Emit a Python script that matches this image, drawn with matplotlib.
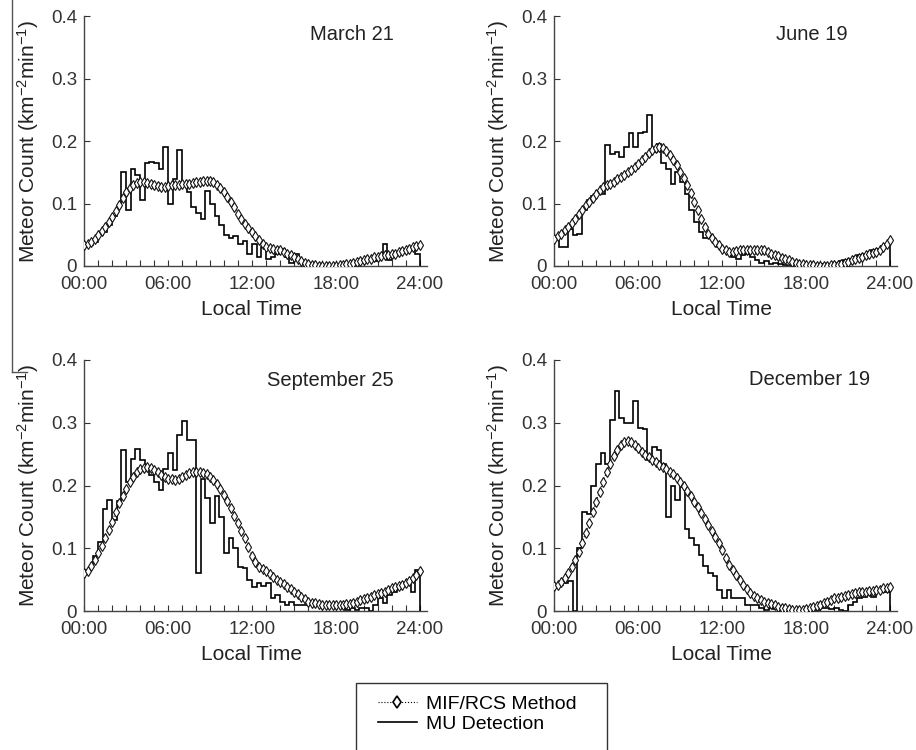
import matplotlib
matplotlib.use("Agg")
import matplotlib.pyplot as plt
import numpy as np
from matplotlib.lines import Line2D
from matplotlib.patches import Rectangle

plt.rcParams["font.family"] = ["Liberation Sans", "DejaVu Sans"]
plt.rcParams["mathtext.fontset"] = "custom"
plt.rcParams["mathtext.rm"] = "Liberation Sans"
plt.rcParams["mathtext.it"] = "Liberation Sans:italic"

# MIF/RCS model curves, one value every 15 min from 00:00 to 24:00 (97 values)
march_mif = [
	0.034, 0.036, 0.039, 0.044,
	0.050, 0.056, 0.063, 0.071,
	0.079, 0.088, 0.098, 0.109,
	0.119, 0.125, 0.130, 0.133,
	0.135, 0.134, 0.133, 0.131,
	0.130, 0.128, 0.127, 0.127,
	0.128, 0.129, 0.130, 0.130,
	0.131, 0.132, 0.132, 0.133,
	0.134, 0.135, 0.136, 0.136,
	0.136, 0.134, 0.130, 0.125,
	0.119, 0.111, 0.103, 0.094,
	0.084, 0.076, 0.068, 0.061,
	0.055, 0.048, 0.041, 0.036,
	0.031, 0.029, 0.027, 0.026,
	0.025, 0.023, 0.020, 0.017,
	0.014, 0.011, 0.008, 0.005,
	0.004, 0.002, 0.001, 0.000,
	0.000, 0.000, 0.000, 0.000,
	0.000, 0.001, 0.002, 0.003,
	0.004, 0.005, 0.007, 0.008,
	0.009, 0.011, 0.012, 0.014,
	0.015, 0.016, 0.017, 0.018,
	0.019, 0.020, 0.022, 0.024,
	0.026, 0.028, 0.030, 0.032,
	0.034,
]
june_mif = [
	0.044, 0.048, 0.052, 0.057,
	0.063, 0.069, 0.076, 0.083,
	0.090, 0.097, 0.103, 0.109,
	0.115, 0.121, 0.127, 0.130,
	0.132, 0.135, 0.139, 0.142,
	0.146, 0.150, 0.154, 0.158,
	0.163, 0.169, 0.175, 0.181,
	0.186, 0.189, 0.191, 0.189,
	0.184, 0.178, 0.170, 0.161,
	0.151, 0.141, 0.130, 0.117,
	0.103, 0.090, 0.076, 0.063,
	0.052, 0.045, 0.039, 0.033,
	0.028, 0.025, 0.023, 0.023,
	0.024, 0.025, 0.025, 0.026,
	0.026, 0.026, 0.026, 0.025,
	0.025, 0.022, 0.020, 0.018,
	0.016, 0.013, 0.011, 0.009,
	0.007, 0.005, 0.004, 0.003,
	0.002, 0.001, 0.001, 0.000,
	0.000, 0.000, 0.000, 0.001,
	0.001, 0.002, 0.004, 0.005,
	0.007, 0.009, 0.011, 0.013,
	0.015, 0.017, 0.019, 0.021,
	0.023, 0.026, 0.030, 0.035,
	0.041,
]
sept_mif = [
	0.060, 0.064, 0.071, 0.081,
	0.092, 0.104, 0.116, 0.129,
	0.142, 0.157, 0.172, 0.184,
	0.195, 0.205, 0.214, 0.221,
	0.226, 0.228, 0.229, 0.228,
	0.225, 0.221, 0.217, 0.214,
	0.211, 0.210, 0.209, 0.211,
	0.214, 0.217, 0.220, 0.221,
	0.222, 0.222, 0.220, 0.218,
	0.214, 0.209, 0.202, 0.194,
	0.185, 0.175, 0.164, 0.152,
	0.140, 0.128, 0.116, 0.102,
	0.088, 0.078, 0.070, 0.067,
	0.064, 0.059, 0.054, 0.050,
	0.047, 0.043, 0.039, 0.035,
	0.031, 0.027, 0.023, 0.019,
	0.015, 0.013, 0.012, 0.011,
	0.010, 0.010, 0.010, 0.010,
	0.010, 0.010, 0.010, 0.011,
	0.011, 0.013, 0.015, 0.017,
	0.019, 0.021, 0.023, 0.025,
	0.027, 0.029, 0.031, 0.034,
	0.036, 0.038, 0.040, 0.042,
	0.044, 0.048, 0.052, 0.057,
	0.063,
]
dec_mif = [
	0.040, 0.042, 0.046, 0.052,
	0.060, 0.070, 0.081, 0.094,
	0.108, 0.124, 0.140, 0.157,
	0.174, 0.190, 0.206, 0.221,
	0.235, 0.247, 0.257, 0.264,
	0.269, 0.271, 0.270, 0.265,
	0.259, 0.254, 0.249, 0.245,
	0.241, 0.237, 0.233, 0.230,
	0.226, 0.222, 0.218, 0.212,
	0.206, 0.199, 0.191, 0.183,
	0.174, 0.165, 0.156, 0.147,
	0.137, 0.128, 0.118, 0.108,
	0.097, 0.085, 0.073, 0.065,
	0.057, 0.049, 0.042, 0.035,
	0.028, 0.024, 0.021, 0.018,
	0.015, 0.013, 0.011, 0.009,
	0.007, 0.005, 0.004, 0.003,
	0.002, 0.002, 0.002, 0.002,
	0.003, 0.004, 0.006, 0.008,
	0.010, 0.012, 0.015, 0.018,
	0.020, 0.021, 0.023, 0.024,
	0.025, 0.027, 0.028, 0.030,
	0.031, 0.031, 0.032, 0.032,
	0.033, 0.034, 0.036, 0.037,
	0.038,
]

# MU radar detections, 20-min bins (72 values)
march_mu = [
	0.031, 0.034, 0.039, 0.050, 0.055, 0.065,
	0.080, 0.095, 0.151, 0.090, 0.155, 0.145,
	0.105, 0.165, 0.167, 0.165, 0.155, 0.190,
	0.100, 0.140, 0.185, 0.132, 0.118, 0.095,
	0.085, 0.075, 0.120, 0.100, 0.080, 0.065,
	0.050, 0.045, 0.048, 0.035, 0.040, 0.020,
	0.035, 0.015, 0.030, 0.012, 0.015, 0.020,
	0.028, 0.015, 0.005, 0.020, 0.008, 0.005,
	0.005, 0.003, 0.000, 0.002, 0.000, 0.000,
	0.000, 0.002, 0.000, 0.003, 0.005, 0.008,
	0.010, 0.012, 0.008, 0.015, 0.035, 0.010,
	0.018, 0.020, 0.022, 0.025, 0.028, 0.020,
]
june_mu = [
	0.045, 0.031, 0.031, 0.060, 0.050, 0.052,
	0.090, 0.105, 0.112, 0.120, 0.116, 0.194,
	0.180, 0.183, 0.175, 0.190, 0.213, 0.190,
	0.213, 0.215, 0.242, 0.183, 0.196, 0.165,
	0.155, 0.132, 0.150, 0.135, 0.115, 0.090,
	0.070, 0.055, 0.045, 0.050, 0.040, 0.030,
	0.025, 0.020, 0.015, 0.012, 0.018, 0.020,
	0.015, 0.010, 0.005, 0.008, 0.003, 0.005,
	0.003, 0.002, 0.000, 0.000, 0.000, 0.000,
	0.000, 0.002, 0.000, 0.003, 0.002, 0.004,
	0.005, 0.008, 0.010, 0.012, 0.015, 0.018,
	0.020, 0.022, 0.025, 0.028, 0.032, 0.033,
]
sept_mu = [
	0.065, 0.070, 0.087, 0.110, 0.162, 0.177,
	0.145, 0.175, 0.257, 0.206, 0.243, 0.258,
	0.240, 0.225, 0.217, 0.206, 0.193, 0.226,
	0.251, 0.225, 0.280, 0.302, 0.272, 0.272,
	0.061, 0.210, 0.180, 0.140, 0.183, 0.150,
	0.092, 0.116, 0.100, 0.070, 0.068, 0.050,
	0.038, 0.045, 0.040, 0.045, 0.020, 0.025,
	0.015, 0.010, 0.015, 0.010, 0.010, 0.010,
	0.012, 0.010, 0.012, 0.010, 0.008, 0.010,
	0.008, 0.005, 0.002, 0.005, 0.002, 0.005,
	0.005, 0.000, 0.010, 0.020, 0.012, 0.025,
	0.030, 0.035, 0.040, 0.050, 0.030, 0.066,
]
dec_mu = [
	0.040, 0.042, 0.045, 0.048, 0.000, 0.100,
	0.157, 0.155, 0.200, 0.234, 0.251, 0.235,
	0.304, 0.350, 0.307, 0.300, 0.300, 0.334,
	0.291, 0.290, 0.240, 0.262, 0.257, 0.235,
	0.150, 0.200, 0.177, 0.198, 0.130, 0.116,
	0.105, 0.089, 0.071, 0.060, 0.055, 0.033,
	0.020, 0.033, 0.020, 0.020, 0.020, 0.010,
	0.010, 0.010, 0.005, 0.002, 0.005, 0.003,
	0.002, 0.000, 0.000, 0.000, 0.000, 0.002,
	0.000, 0.003, 0.002, 0.005, 0.005, 0.003,
	0.005, 0.002, 0.000, 0.010, 0.015, 0.020,
	0.022, 0.025, 0.022, 0.030, 0.030, 0.031,
]

titles = ["March 21", "June 19", "September 25", "December 19"]
x_tick_labels = ["00:00", "06:00", "12:00", "18:00", "24:00"]
y_tick_labels = ["0", "0.1", "0.2", "0.3", "0.4"]

mif_hours = np.arange(len(march_mif)) * 0.25
mu_edges = np.arange(len(march_mu) + 1) / 3.0

W, H = 916, 750
fig = plt.figure(figsize=(W / 100, H / 100), dpi=100)


def _px_axes(left, top, bottom, width=343):
	return fig.add_axes([left / W, 1 - bottom / H, width / W, (bottom - top) / H])


# panel frames in pixels: (left, top, bottom)
frames = [(84, 16, 266), (554, 16, 266), (84, 360, 611), (554, 360, 611)]
title_pos = [(0.78, 0.925), (0.752, 0.925), (0.717, 0.92), (0.746, 0.922)]
series = [
	(march_mif, march_mu),
	(june_mif, june_mu),
	(sept_mif, sept_mu),
	(dec_mif, dec_mu),
]

for (left, top, bottom), title, tpos, (mif, mu) in zip(frames, titles, title_pos, series):
	ax = _px_axes(left, top, bottom)
	ax.stairs(mu, mu_edges, baseline=0, color="black", lw=1.2, zorder=2)
	ax.plot(
		mif_hours, mif, linestyle=":", color="black", lw=0.8,
		marker="d", markersize=4.6, mfc="white", mec="#111111", mew=0.8, zorder=3,
	)
	ax.set_xlim(0, 24.5)
	ax.set_ylim(0, 0.4)
	ax.set_xticks([0, 6, 12, 18, 24])
	ax.set_xticklabels(x_tick_labels)
	ax.set_xticks(np.arange(25), minor=True)
	ax.set_yticks([0, 0.1, 0.2, 0.3, 0.4])
	ax.set_yticklabels(y_tick_labels)
	ax.tick_params(which="both", direction="in", length=4, width=0.8, colors="#333333",
		labelsize=13.5)
	ax.tick_params(axis="x", pad=7)
	ax.tick_params(axis="y", pad=5)
	for side in ("top", "right"):
		ax.spines[side].set_visible(False)
	for side in ("left", "bottom"):
		ax.spines[side].set_color("#444444")
		ax.spines[side].set_linewidth(1.0)
	ax.set_ylabel("Meteor Count (km$^{-2}$min$^{-1}$)", fontsize=15, color="#222222")
	ax.yaxis.set_label_coords(-0.125, 0.5)
	ax.set_xlabel("Local Time", fontsize=15, color="#222222", va="top")
	ax.xaxis.set_label_coords(0.487, -0.135)
	ax.text(tpos[0], tpos[1], title, transform=ax.transAxes, ha="center", va="center",
		fontsize=14.5, color="#222222")

# legend at the bottom, frame runs off the lower edge
handles = [
	Line2D([], [], linestyle=":", color="black", lw=0.8, marker="d", markersize=6,
		mfc="white", mec="black", mew=1.2),
	Line2D([], [], color="black", lw=1.2),
]
fig.legend(
	handles, ["MIF/RCS Method", "MU Detection"],
	loc="upper left", bbox_to_anchor=(378 / W, 1 - 695 / H),
	frameon=False, fontsize=14, borderpad=0, borderaxespad=0,
	handlelength=2.0, handletextpad=0.45, labelspacing=0.15,
)
fig.patches.append(Rectangle((356 / W, -8 / H), 251 / W, (750 - 683 + 8) / H,
	transform=fig.transFigure, fill=False, edgecolor="#333333", lw=1.0, clip_on=False))

# thin stray rule on the far left of the original scan
fig.add_artist(Line2D([12 / W, 12 / W], [1, 1 - 372 / H], color="#555555", lw=1.0))
fig.add_artist(Line2D([12 / W, 27 / W], [1 - 372 / H, 1 - 372 / H], color="#555555", lw=1.0))

fig.savefig("out.png", dpi=100)
